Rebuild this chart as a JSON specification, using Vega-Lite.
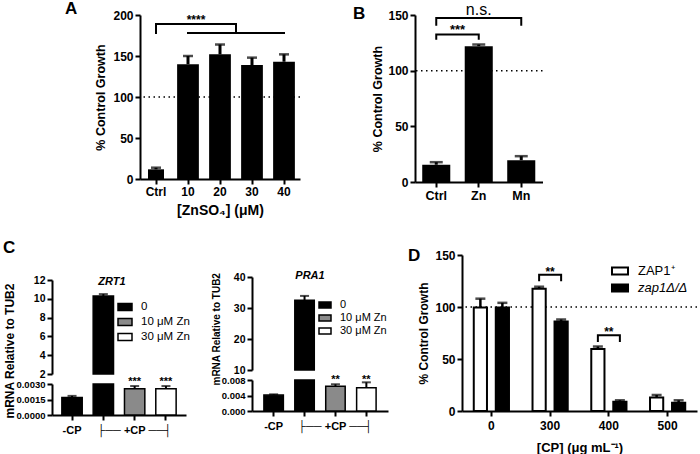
{
"$schema":"https://vega.github.io/schema/vega-lite/v6.json",
"padding":{"left":2,"top":0,"right":0,"bottom":0},
"spacing":21,
"resolve":{"scale":{"fill":"independent"},"legend":{"fill":"independent"}},
"datasets":{
 "A":[{"c":"Ctrl","v":11.8,"e":13.8},{"c":"10","v":140,"e":150},{"c":"20","v":152,"e":164},{"c":"30","v":139,"e":148},{"c":"40","v":143,"e":152}],
 "B":[{"c":"Ctrl","v":15.5,"e":17.8},{"c":"Zn","v":122,"e":123.5},{"c":"Mn","v":19.6,"e":23.2}],
 "Bbr":[{"b":1,"o":1,"c":"Ctrl","y":140.4},{"b":1,"o":2,"c":"Ctrl","y":147.3},{"b":1,"o":3,"c":"Mn","y":147.3},{"b":1,"o":4,"c":"Mn","y":140.4},{"b":2,"o":1,"c":"Ctrl","y":127.7},{"b":2,"o":2,"c":"Ctrl","y":132.4},{"b":2,"o":3,"c":"Zn","y":132.4},{"b":2,"o":4,"c":"Zn","y":127.7}],
 "ZRT1":[{"c":"-CP","z":"-CP","v":0.0017,"e":0.00185},{"c":"0","z":"0","v":10.3,"e":10.5},{"c":"10","z":"10 μM Zn","v":0.00255,"e":0.0028},{"c":"30","z":"30 μM Zn","v":0.00255,"e":0.0028}],
 "PRA1":[{"c":"-CP","z":"-CP","v":0.0041,"e":0.0043},{"c":"0","z":"0","v":32.5,"e":33.9},{"c":"10","z":"10 μM Zn","v":0.0064,"e":0.0069},{"c":"30","z":"30 μM Zn","v":0.006,"e":0.0074}],
 "D":[{"cp":"0","s":"ZAP1⁺","v":99.5,"e":108},{"cp":"0","s":"zap1Δ/Δ","v":99.5,"e":104},{"cp":"300","s":"ZAP1⁺","v":117.5,"e":119.5},{"cp":"300","s":"zap1Δ/Δ","v":86,"e":88},{"cp":"400","s":"ZAP1⁺","v":59.5,"e":62},{"cp":"400","s":"zap1Δ/Δ","v":9,"e":10.3},{"cp":"500","s":"ZAP1⁺","v":13,"e":15.4},{"cp":"500","s":"zap1Δ/Δ","v":8,"e":10.3}],
 "Dbr":[{"b":1,"o":1,"cp":"300","s":"ZAP1⁺","y":124.7},{"b":1,"o":2,"cp":"300","s":"ZAP1⁺","y":131},{"b":1,"o":3,"cp":"300","s":"zap1Δ/Δ","y":131},{"b":1,"o":4,"cp":"300","s":"zap1Δ/Δ","y":124.7},{"b":2,"o":1,"cp":"400","s":"ZAP1⁺","y":66.3},{"b":2,"o":2,"cp":"400","s":"ZAP1⁺","y":72.8},{"b":2,"o":3,"cp":"400","s":"zap1Δ/Δ","y":72.8},{"b":2,"o":4,"cp":"400","s":"zap1Δ/Δ","y":66.3}]
},
"vconcat":[
 {"hconcat":[
   {"width":118,"height":1,"data":{"values":[{}]},"mark":{"type":"point","opacity":0,"size":1},"encoding":{}},
   {"width":160,"height":164,
    "title":{"text":"A","anchor":"start","frame":"group","fontSize":17,"dx":-75,"offset":-9},
    "data":{"name":"A"},
    "layer":[
     {"data":{"values":[{}]},"mark":{"type":"rule","color":"black","strokeWidth":1.5,"strokeDash":[1.5,3.5]},"encoding":{"y":{"datum":100,"type":"quantitative"}}},
     {"transform":[{"filter":"datum.c != 'Ctrl'"}],"mark":{"type":"bar","color":"black","width":{"band":0.68}},
      "encoding":{
       "x":{"field":"c","type":"nominal","scale":{"domain":["Ctrl","10","20","30","40"],"paddingInner":0,"paddingOuter":0},"axis":{"title":"[ZnSO₄] (μM)","titleFontSize":14,"labelFontSize":12,"titlePadding":6}},
       "y":{"field":"v","type":"quantitative","scale":{"domain":[0,200],"nice":false},"axis":{"values":[0,50,100,150,200],"tickCount":10,"title":"% Control Growth","titleFontSize":12.5,"labelFontSize":12,"titlePadding":5}}}},
     {"transform":[{"filter":"datum.c == 'Ctrl'"}],"mark":{"type":"bar","color":"black","width":{"band":0.5}},"encoding":{"x":{"field":"c","type":"nominal"},"y":{"field":"v","type":"quantitative"}}},
     {"mark":{"type":"rule","color":"black","strokeWidth":3},"encoding":{"x":{"field":"c","type":"nominal"},"y":{"field":"v","type":"quantitative"},"y2":{"field":"e"}}},
     {"mark":{"type":"tick","color":"black","size":10,"thickness":2.5},"encoding":{"x":{"field":"c","type":"nominal"},"y":{"field":"e","type":"quantitative"}}},
     {"data":{"values":[{"c":"Ctrl","y":178,"y2":189}]},"mark":{"type":"rule","color":"black","strokeWidth":2,"strokeCap":"square"},"encoding":{"x":{"field":"c","type":"nominal","bandPosition":0.5},"y":{"field":"y","type":"quantitative"},"y2":{"field":"y2"}}},
     {"data":{"values":[{"c":"20","y":178,"y2":189}]},"mark":{"type":"rule","color":"black","strokeWidth":2,"strokeCap":"square"},"encoding":{"x":{"field":"c","type":"nominal","bandPosition":1},"y":{"field":"y","type":"quantitative"},"y2":{"field":"y2"}}},
     {"data":{"values":[{"c":"10","c2":"40","y":178},{"c":"Ctrl","c2":"10","y":189}]},"mark":{"type":"rule","color":"black","strokeWidth":2,"strokeCap":"square"},"encoding":{"x":{"field":"c","type":"nominal","bandPosition":0.5},"x2":{"field":"c2","bandPosition":0.5},"y":{"field":"y","type":"quantitative"}}},
     {"data":{"values":[{"c":"Ctrl","c2":"20","y":189}]},"mark":{"type":"rule","color":"black","strokeWidth":2,"strokeCap":"square"},"encoding":{"x":{"field":"c","type":"nominal","bandPosition":1},"x2":{"field":"c2","bandPosition":1},"y":{"field":"y","type":"quantitative"}}},
     {"data":{"values":[{"c":"10","y":197.5,"t":"****"}]},"mark":{"type":"text","fontSize":12,"fontWeight":"bold","color":"black","dy":3},"encoding":{"x":{"field":"c","type":"nominal","bandPosition":0.75},"y":{"field":"y","type":"quantitative"},"text":{"field":"t"}}}
    ]},
   {"width":75,"height":1,"data":{"values":[{}]},"mark":{"type":"point","opacity":0,"size":1},"encoding":{}},
   {"width":127.5,"height":167,
    "title":{"text":"B","anchor":"start","frame":"group","fontSize":17,"dx":-62,"offset":-21},
    "data":{"name":"B"},
    "layer":[
     {"data":{"values":[{}]},"mark":{"type":"rule","color":"black","strokeWidth":1.5,"strokeDash":[1.5,3.5]},"encoding":{"y":{"datum":100,"type":"quantitative"}}},
     {"mark":{"type":"bar","color":"black","width":{"band":0.66}},
      "encoding":{
       "x":{"field":"c","type":"nominal","scale":{"domain":["Ctrl","Zn","Mn"],"paddingInner":0,"paddingOuter":0},"axis":{"title":null,"labelFontSize":12.5}},
       "y":{"field":"v","type":"quantitative","scale":{"domain":[0,150],"nice":false},"axis":{"values":[0,50,100,150],"tickCount":10,"title":"% Control Growth","titleFontSize":12.5,"labelFontSize":12,"titlePadding":3}}}},
     {"mark":{"type":"rule","color":"black","strokeWidth":3},"encoding":{"x":{"field":"c","type":"nominal"},"y":{"field":"v","type":"quantitative"},"y2":{"field":"e"}}},
     {"mark":{"type":"tick","color":"black","size":13,"thickness":2.5},"encoding":{"x":{"field":"c","type":"nominal"},"y":{"field":"e","type":"quantitative"}}},
     {"data":{"name":"Bbr"},"mark":{"type":"line","color":"black","strokeWidth":2,"strokeJoin":"miter"},"encoding":{"x":{"field":"c","type":"nominal"},"y":{"field":"y","type":"quantitative"},"detail":{"field":"b"},"order":{"field":"o","type":"quantitative"}}},
     {"data":{"values":[{"c":"Ctrl","y":139.3,"t":"***"}]},"mark":{"type":"text","fontSize":13,"fontWeight":"bold","color":"black","dy":3},"encoding":{"x":{"field":"c","type":"nominal","bandPosition":1},"y":{"field":"y","type":"quantitative"},"text":{"field":"t"}}},
     {"data":{"values":[{"c":"Zn","y":154.7,"t":"n.s."}]},"mark":{"type":"text","fontSize":16,"color":"black"},"encoding":{"x":{"field":"c","type":"nominal"},"y":{"field":"y","type":"quantitative"},"text":{"field":"t"}}}
    ]}
  ],"spacing":20,"bounds":"flush","resolve":{"scale":{"fill":"independent"},"legend":{"fill":"independent"}}},
 {"hconcat":[
   {"width":30,"height":1,"data":{"values":[{}]},"mark":{"type":"point","opacity":0,"size":1},"encoding":{},
    "title":{"text":"C","anchor":"start","frame":"group","fontSize":17,"dx":1,"offset":-1.5}},
   {"width":134,"height":160,
    "title":{"text":"ZRT1","fontStyle":"italic","fontSize":11,"anchor":"middle","frame":"group","dx":-7,"offset":-31.6},
    "data":{"name":"ZRT1"},
    "resolve":{"scale":{"y":"independent"},"axis":{"y":"independent"}},
    "layer":[
     {"transform":[{"filter":"datum.v > 2"}],
      "layer":[
       {"mark":{"type":"bar","stroke":"black","strokeWidth":1.5,"width":{"band":0.65}},
        "encoding":{
         "x":{"field":"c","type":"nominal","scale":{"domain":["-CP","0","10","30"],"paddingInner":0,"paddingOuter":0.14}},
         "y":{"field":"v","type":"quantitative","scale":{"domain":[2,12],"range":[119,25],"nice":false,"zero":false},"axis":{"orient":"left","values":[2,4,6,8,10,12],"tickCount":10,"title":null,"labelFontSize":10.5,"labelOverlap":false}},
         "y2":{"datum":2},
         "fill":{"field":"z","type":"nominal","scale":{"domain":["-CP","0","10 μM Zn","30 μM Zn"],"range":["black","black","#8a8a8a","white"]},
           "legend":{"orient":"none","legendX":65,"legendY":44,"values":["0","10 μM Zn","30 μM Zn"],"title":null,"symbolType":"M-1,-0.5H1V0.5H-1Z","symbolSize":196,"symbolStrokeColor":"black","symbolStrokeWidth":1.5,"labelFont":"Liberation Sans","labelFontSize":11.5,"labelColor":"black","labelOffset":8,"rowPadding":-2,"padding":0}}}},
       {"mark":{"type":"rule","color":"black","strokeWidth":2},"encoding":{"x":{"field":"c","type":"nominal"},"y":{"field":"v","type":"quantitative"},"y2":{"field":"e"}}},
       {"mark":{"type":"tick","color":"black","size":9,"thickness":2},"encoding":{"x":{"field":"c","type":"nominal"},"y":{"field":"e","type":"quantitative"}}}
      ]},
     {"layer":[
       {"mark":{"type":"bar","stroke":"black","strokeWidth":1.5,"width":{"band":0.65}},
        "encoding":{
         "x":{"field":"c","type":"nominal","axis":{"title":null,"labelExpr":"datum.value == '-CP' ? '-CP' : (datum.value == '10' ? '├── +CP ──┤' : '')","labelFontSize":11,"labelOverlap":false,"labelPadding":4}},
         "y":{"field":"v","type":"quantitative","scale":{"domain":[0,0.003],"range":[160,129],"nice":false,"clamp":true},"axis":{"orient":"left","values":[0,0.0015,0.003],"tickCount":10,"format":".4f","labelFontSize":9.5,"labelOverlap":false,"title":"mRNA Relative to TUB2","titleFontSize":12,"titleX":-36,"titleY":163,"titleAlign":"left","titleBaseline":"bottom"}},
         "fill":{"field":"z","type":"nominal","legend":null}}},
       {"transform":[{"filter":"datum.v < 1"}],"mark":{"type":"rule","color":"black","strokeWidth":2},"encoding":{"x":{"field":"c","type":"nominal"},"y":{"field":"v","type":"quantitative"},"y2":{"field":"e"}}},
       {"transform":[{"filter":"datum.v < 1"}],"mark":{"type":"tick","color":"black","size":9,"thickness":2},"encoding":{"x":{"field":"c","type":"nominal"},"y":{"field":"e","type":"quantitative"}}},
       {"data":{"values":[{"c":"10","y":0.003,"t":"***"},{"c":"30","y":0.003,"t":"***"}]},"mark":{"type":"text","fontSize":11,"fontWeight":"bold","color":"black","dy":-2},"encoding":{"x":{"field":"c","type":"nominal"},"y":{"field":"y","type":"quantitative"},"text":{"field":"t"}}}
      ]}
    ]},
   {"width":26,"height":1,"data":{"values":[{}]},"mark":{"type":"point","opacity":0,"size":1},"encoding":{}},
   {"width":136,"height":156,
    "title":{"text":"PRA1","fontStyle":"italic","fontSize":11,"anchor":"middle","frame":"group","dx":-10,"offset":-25.6},
    "data":{"name":"PRA1"},
    "resolve":{"scale":{"y":"independent"},"axis":{"y":"independent"}},
    "layer":[
     {"transform":[{"filter":"datum.v > 2"}],
      "layer":[
       {"mark":{"type":"bar","stroke":"black","strokeWidth":1.5,"width":{"band":0.63}},
        "encoding":{
         "x":{"field":"c","type":"nominal","scale":{"domain":["-CP","0","10","30"],"paddingInner":0,"paddingOuter":0.2}},
         "y":{"field":"v","type":"quantitative","scale":{"domain":[10,40],"range":[115,22],"nice":false,"zero":false},"axis":{"orient":"left","values":[10,20,30,40],"tickCount":10,"title":null,"labelFontSize":10.5,"labelOverlap":false}},
         "y2":{"datum":10},
         "fill":{"field":"z","type":"nominal","scale":{"domain":["-CP","0","10 μM Zn","30 μM Zn"],"range":["black","black","#8a8a8a","white"]},
           "legend":{"orient":"none","legendX":66,"legendY":43,"values":["0","10 μM Zn","30 μM Zn"],"title":null,"symbolType":"M-1,-0.5H1V0.5H-1Z","symbolSize":144,"symbolStrokeColor":"black","symbolStrokeWidth":1.5,"labelFont":"Liberation Sans","labelFontSize":11,"labelColor":"black","labelOffset":8,"rowPadding":-2.5,"padding":0}}}},
       {"mark":{"type":"rule","color":"black","strokeWidth":2},"encoding":{"x":{"field":"c","type":"nominal"},"y":{"field":"v","type":"quantitative"},"y2":{"field":"e"}}},
       {"mark":{"type":"tick","color":"black","size":9,"thickness":2},"encoding":{"x":{"field":"c","type":"nominal"},"y":{"field":"e","type":"quantitative"}}}
      ]},
     {"layer":[
       {"mark":{"type":"bar","stroke":"black","strokeWidth":1.5,"width":{"band":0.63}},
        "encoding":{
         "x":{"field":"c","type":"nominal","axis":{"title":null,"labelExpr":"datum.value == '-CP' ? '-CP' : (datum.value == '10' ? '├── +CP ──┤' : '')","labelFontSize":11,"labelOverlap":false,"labelPadding":4}},
         "y":{"field":"v","type":"quantitative","scale":{"domain":[0,0.008],"range":[156,125],"nice":false,"clamp":true},"axis":{"orient":"left","values":[0,0.004,0.008],"tickCount":10,"format":".3f","labelFontSize":9.5,"labelOverlap":false,"title":"mRNA Relative to TUB2","titleFontSize":10,"titleX":-31,"titleY":130,"titleAlign":"left","titleBaseline":"bottom"}},
         "fill":{"field":"z","type":"nominal","legend":null}}},
       {"transform":[{"filter":"datum.v < 1"}],"mark":{"type":"rule","color":"black","strokeWidth":2},"encoding":{"x":{"field":"c","type":"nominal"},"y":{"field":"v","type":"quantitative"},"y2":{"field":"e"}}},
       {"transform":[{"filter":"datum.v < 1"}],"mark":{"type":"tick","color":"black","size":9,"thickness":2},"encoding":{"x":{"field":"c","type":"nominal"},"y":{"field":"e","type":"quantitative"}}},
       {"data":{"values":[{"c":"10","y":0.008,"t":"**"},{"c":"30","y":0.008,"t":"**"}]},"mark":{"type":"text","fontSize":11,"fontWeight":"bold","color":"black","dy":0},"encoding":{"x":{"field":"c","type":"nominal"},"y":{"field":"y","type":"quantitative"},"text":{"field":"t"}}}
      ]}
    ]},
   {"width":34,"height":1,"data":{"values":[{}]},"mark":{"type":"point","opacity":0,"size":1},"encoding":{}},
   {"width":235,"height":156,
    "title":{"text":"D","anchor":"start","frame":"group","fontSize":17,"dx":-54,"offset":-16},
    "data":{"name":"D"},
    "layer":[
     {"data":{"values":[{}]},"mark":{"type":"rule","color":"black","strokeWidth":1.5,"strokeDash":[1.5,3.5]},"encoding":{"y":{"datum":100,"type":"quantitative"}}},
     {"mark":{"type":"bar","stroke":"black","strokeWidth":2},
      "encoding":{
       "x":{"field":"cp","type":"nominal","scale":{"domain":["0","300","400","500"],"paddingInner":0,"paddingOuter":0},"axis":{"title":"[CP] (μg mL⁻¹)","titleFontSize":13,"labelFontSize":12,"titlePadding":10,"labelPadding":4}},
       "xOffset":{"field":"s","type":"nominal","scale":{"domain":["ZAP1⁺","zap1Δ/Δ"],"paddingInner":0.4,"paddingOuter":0.535}},
       "y":{"field":"v","type":"quantitative","scale":{"domain":[0,150],"nice":false},"axis":{"values":[0,50,100,150],"tickCount":10,"title":"% Control Growth","titleFontSize":12,"labelFontSize":12,"titlePadding":4}},
       "fill":{"field":"s","type":"nominal","scale":{"domain":["ZAP1⁺","zap1Δ/Δ"],"range":["white","black"]},
         "legend":{"orient":"none","legendX":149,"legendY":7,"title":null,"symbolType":"M-1,-0.45H1V0.45H-1Z","symbolSize":256,"symbolStrokeColor":"black","symbolStrokeWidth":2,"labelFont":"Liberation Sans","labelFontSize":13,"labelColor":"black","labelOffset":9,"rowPadding":0,"padding":0,
           "encoding":{"labels":{"fontStyle":{"condition":{"test":"datum.label != 'ZAP1⁺'","value":"italic"},"value":"normal"}}}}}}},
     {"mark":{"type":"rule","color":"black","strokeWidth":2.5},"encoding":{"x":{"field":"cp","type":"nominal"},"xOffset":{"field":"s","type":"nominal"},"y":{"field":"v","type":"quantitative"},"y2":{"field":"e"}}},
     {"mark":{"type":"tick","color":"black","size":10,"thickness":2.5},"encoding":{"x":{"field":"cp","type":"nominal"},"xOffset":{"field":"s","type":"nominal"},"y":{"field":"e","type":"quantitative"}}},
     {"data":{"name":"Dbr"},"mark":{"type":"line","color":"black","strokeWidth":2,"strokeJoin":"miter"},"encoding":{"x":{"field":"cp","type":"nominal"},"xOffset":{"field":"s","type":"nominal"},"y":{"field":"y","type":"quantitative"},"detail":{"field":"b"},"order":{"field":"o","type":"quantitative"}}},
     {"data":{"values":[{"cp":"300","y":136.8,"t":"**"},{"cp":"400","y":78.8,"t":"**"}]},"mark":{"type":"text","fontSize":12,"fontWeight":"bold","color":"black","dy":3},"encoding":{"x":{"field":"cp","type":"nominal"},"y":{"field":"y","type":"quantitative"},"text":{"field":"t"}}}
    ]}
  ],"spacing":20,"bounds":"flush","resolve":{"scale":{"fill":"independent"},"legend":{"fill":"independent"}}}
],
"config":{
 "view":{"stroke":null},
 "font":"Liberation Sans",
 "axis":{"domainColor":"black","domainWidth":2,"tickColor":"black","tickWidth":2,"tickSize":5,"labelColor":"black","labelFont":"Liberation Sans","labelFontWeight":"bold","titleFont":"Liberation Sans","titleFontWeight":"bold","titleColor":"black","grid":false},
 "axisX":{"labelAngle":0},
 "title":{"font":"Liberation Sans","fontWeight":"bold","color":"black"},
 "legend":{"labelFont":"Liberation Sans","labelColor":"black","padding":0}
}
}
